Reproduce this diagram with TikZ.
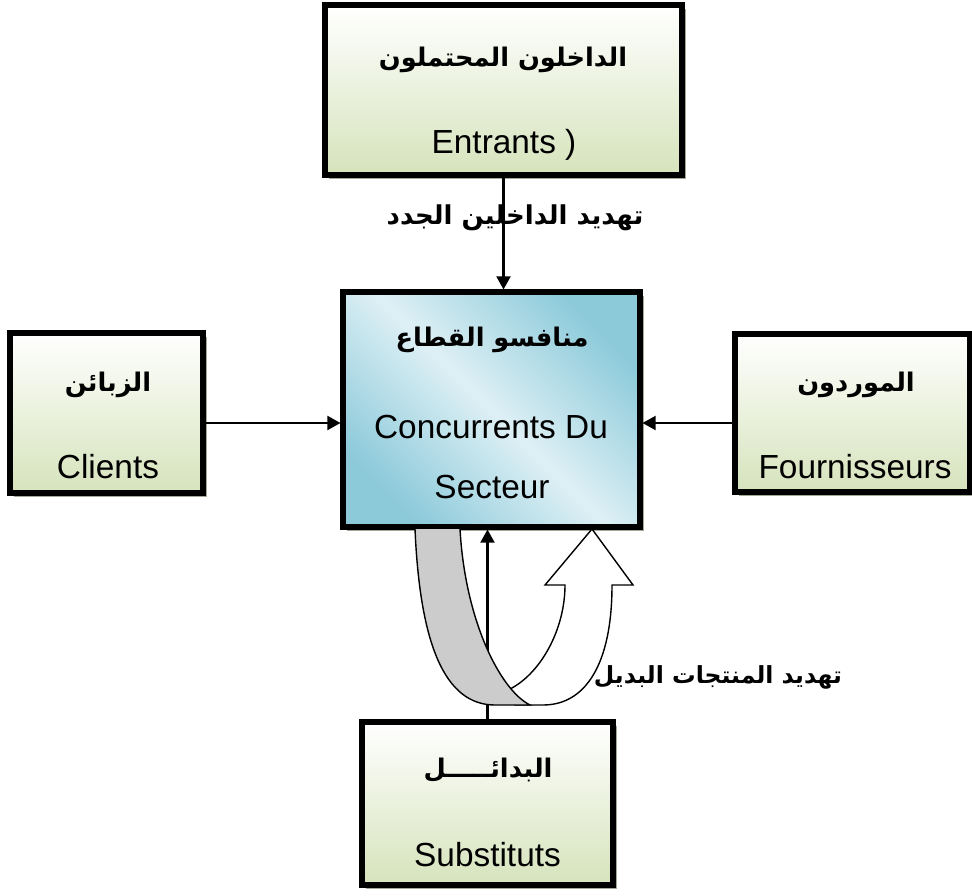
\documentclass[tikz,border=0pt]{standalone}
\usepackage{fontspec}
\setmainfont{Liberation Sans}
\newfontfamily\arabicfont[Script=Arabic]{DejaVu Sans}
\TeXXeTstate=1
\usepackage{xcolor}
\usepackage{tikz}
\usetikzlibrary{arrows.meta,shadows}

\definecolor{boxgreen}{RGB}{214,227,188}
\definecolor{boxblue}{RGB}{140,202,218}
\definecolor{boxpale}{RGB}{222,240,245}
\definecolor{ribbongray}{RGB}{204,204,204}
\definecolor{shadowgray}{RGB}{160,168,150}
\newcommand{\artext}[1]{{\arabicfont\bfseries\beginR #1\endR}}

\begin{document}
\begin{tikzpicture}[x=0.02cm,y=-0.02cm,
  greenbox/.style={draw=black,line width=2.9pt,top color=white,bottom color=boxgreen,
    drop shadow={shadow xshift=2.4pt,shadow yshift=-2.4pt,fill=shadowgray,opacity=1}},
  bluebox/.style={draw=black,line width=2.9pt,left color=boxblue,right color=boxblue,
    middle color=boxpale,shading angle=-45,
    drop shadow={shadow xshift=2.4pt,shadow yshift=-2.4pt,fill=shadowgray,opacity=1}},
  artxt/.style={font=\fontsize{14.6}{16}\selectfont,inner sep=0pt},
  thrtxt/.style={font=\fontsize{14.8}{16}\selectfont,inner sep=0pt},
  frtxt/.style={font=\fontsize{19}{21}\selectfont,inner sep=0pt},
  arr/.style={line width=1.2pt,-{Triangle[length=7.5pt,width=8pt]}}]
\useasboundingbox (0,0) rectangle (972,895);

% Boxes
\node[greenbox,minimum width=7.14cm,minimum height=3.4cm] (ent) at (503.5,90) {};
\node[greenbox,minimum width=3.86cm,minimum height=3.2cm] (cli) at (106.5,413) {};
\node[greenbox,minimum width=4.7cm,minimum height=3.16cm] (fou) at (852.5,413) {};
\node[greenbox,minimum width=5.02cm,minimum height=3.26cm] (sub) at (487.5,803.5) {};
\node[bluebox,minimum width=5.94cm,minimum height=4.7cm] (comp) at (491.5,409.5) {};

% Box texts
\node[artxt] (entAr) at (503,60) {\artext{الداخلون المحتملون}};
\node[frtxt] (entFr) at (504,145) {Entrants )};
\node[artxt] (cliAr) at (108,385) {\artext{الزبائن}};
\node[frtxt] (cliFr) at (108,467) {Clients};
\node[artxt] (fouAr) at (856,385) {\artext{الموردون}};
\node[frtxt] (fouFr) at (855,467) {Fournisseurs};
\node[artxt] (compAr) at (492,340) {\artext{منافسو القطاع}};
\node[frtxt] (compFr) at (491,427) {Concurrents Du};
\node[frtxt] (compFrb) at (492,487) {Secteur};
\node[artxt] (subAr) at (488,770) {\artext{البدائـــــل}};
\node[frtxt] (subFr) at (487.5,855) {Substituts};

% Forces
\draw[arr] (ent.south) -- (ent.south |- comp.north);
\draw[arr] ([yshift=-0.2cm]cli.east) -- ([yshift=-0.2cm]cli.east -| comp.west);
\draw[arr] ([yshift=-0.2cm]fou.west) -- ([yshift=-0.2cm]fou.west -| comp.east);
\draw[arr] (sub.north) -- (sub.north |- comp.south);

% U-turn ribbon: white front first, grey back on top
\filldraw[fill=white,line width=0.8pt] (508,690) .. controls (540,675) and (565,630) .. (565,585)
  -- (545,585) -- (592,529) -- (633,585) -- (612,585) .. controls (612,665) and (585,705) .. (543,705)
  -- (515,705) -- cycle;
\filldraw[fill=ribbongray,line width=0.8pt] (415,529) .. controls (420,645) and (445,705) .. (495,705)
  -- (530,705) .. controls (500,690) and (465,620) .. (460,529);

% Threat labels
\node[thrtxt] (thrEnt) at (515,218) {\artext{تهديد الداخلين الجدد}};
\node[thrtxt,font=\fontsize{13.4}{16}\selectfont] (thrSub) at (718,677) {\artext{تهديد المنتجات البديل}};
\end{tikzpicture}
\end{document}
